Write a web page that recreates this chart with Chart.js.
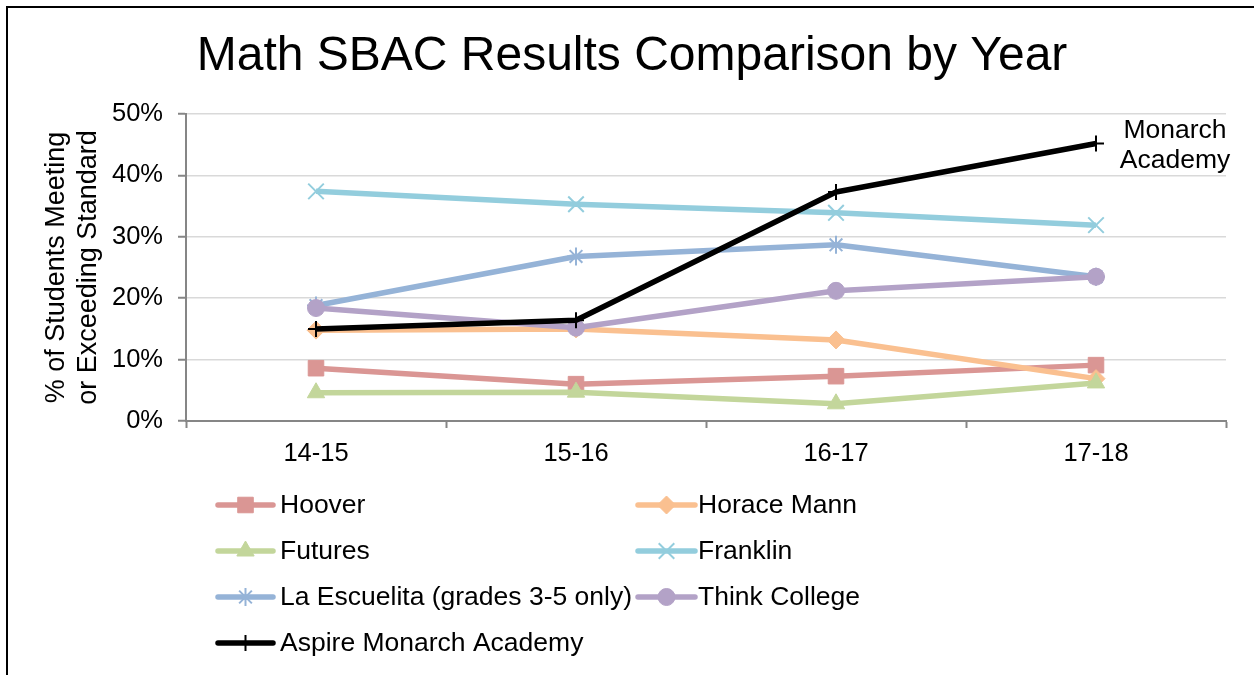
<!DOCTYPE html>
<html>
<head>
<meta charset="utf-8">
<script src="https://cdn.jsdelivr.net/npm/chart.js@4.4.0/dist/chart.umd.min.js"></script>
<style>
  html, body { margin:0; padding:0; background:#ffffff; }
  #wrap { width:1254px; height:675px; position:relative; }
</style>
</head>
<body>
<div id="wrap"><canvas id="c" width="1254" height="675"></canvas></div>
<script>
// ---- data ----
const categories = ['14-15', '15-16', '16-17', '17-18'];
const seriesNames = ['Hoover', 'Horace Mann', 'Futures', 'Franklin', 'La Escuelita (grades 3-5 only)', 'Think College', 'Aspire Monarch Academy'];
const hoover       = [8.6, 6.0, 7.3, 9.1];
const horaceMann   = [14.8, 15.0, 13.2, 6.9];
const futures      = [4.6, 4.7, 2.8, 6.2];
const franklin     = [37.4, 35.3, 33.9, 31.9];
const laEscuelita  = [18.8, 26.8, 28.7, 23.5];
const thinkCollege = [18.4, 15.2, 21.2, 23.5];
const monarch      = [15.0, 16.4, 37.3, 45.2];
const yTicks = [0, 10, 20, 30, 40, 50];
const chartTitle = 'Math SBAC Results Comparison by Year';
const yTitle = ['% of Students Meeting', 'or Exceeding Standard'];
const annotationLines = ['Monarch', 'Academy'];

// ---- styles ----
const FONT = '"Liberation Sans", Arial, Helvetica, sans-serif';
const styles = [
  { color:'#DA9694', point:'rect',     radius:11, bw:1 },
  { color:'#FAC090', point:'rectRot',  radius:9,  bw:1 },
  { color:'#C3D69B', point:'triangle', radius:10, bw:1 },
  { color:'#93CDDD', point:'crossRot', radius:11, bw:2 },
  { color:'#95B3D7', point:'star',     radius:9,  bw:2 },
  { color:'#B3A2C7', point:'circle',   radius:8.5,bw:1 },
  { color:'#000000', point:'cross',    radius:8,  bw:2 }
];
const values = [hoover, horaceMann, futures, franklin, laEscuelita, thinkCollege, monarch];

const datasets = values.map((v, i) => ({
  label: seriesNames[i],
  data: v,
  borderColor: styles[i].color,
  backgroundColor: styles[i].color,
  pointBackgroundColor: styles[i].color,
  pointBorderColor: styles[i].color,
  borderWidth: 5.5,
  pointStyle: styles[i].point,
  pointRadius: styles[i].radius,
  pointHoverRadius: styles[i].radius,
  pointBorderWidth: styles[i].bw,
  borderJoinStyle: 'round',
  tension: 0,
  fill: false,
  order: values.length - 1 - i
}));

function drawMarker(ctx, style, x, y) {
  const opts = { pointStyle: style.point, radius: style.radius, rotation: 0, borderWidth: style.bw };
  ctx.save();
  ctx.fillStyle = style.color;
  ctx.strokeStyle = style.color;
  ctx.lineWidth = style.bw;
  if (Chart.helpers && Chart.helpers.drawPoint) {
    Chart.helpers.drawPoint(ctx, opts, x, y);
  } else {
    ctx.beginPath(); ctx.arc(x, y, style.radius, 0, Math.PI * 2); ctx.fill();
  }
  ctx.restore();
}

const decor = {
  id: 'decor',
  beforeDraw(chart) {
    const ctx = chart.ctx;
    ctx.save();
    ctx.fillStyle = '#ffffff';
    ctx.fillRect(0, 0, chart.width, chart.height);
    ctx.fillStyle = '#000000';
    ctx.fillRect(6, 6, 2, chart.height - 6);
    ctx.fillRect(6, 6, chart.width - 6, 2);
    ctx.restore();
  },
  afterDraw(chart) {
    const ctx = chart.ctx;
    const area = chart.chartArea;
    ctx.save();
    ctx.fillStyle = '#000000';
    // title
    ctx.font = '48px ' + FONT;
    ctx.textAlign = 'center';
    ctx.textBaseline = 'alphabetic';
    ctx.fillText(chartTitle, 632, 70);
    // y axis title (rotated, two lines)
    ctx.save();
    ctx.font = '27px ' + FONT;
    ctx.translate(0, (area.top + area.bottom) / 2);
    ctx.rotate(-Math.PI / 2);
    ctx.textAlign = 'center';
    ctx.textBaseline = 'middle';
    ctx.fillText(yTitle[0], 0, 57);
    ctx.fillText(yTitle[1], 0, 89);
    ctx.restore();
    // annotation next to last Monarch point
    const meta = chart.getDatasetMeta(6);
    const last = meta.data[meta.data.length - 1];
    ctx.font = '26.5px ' + FONT;
    ctx.textAlign = 'center';
    ctx.textBaseline = 'middle';
    ctx.fillText(annotationLines[0], last.x + 79, last.y - 13);
    ctx.fillText(annotationLines[1], last.x + 79, last.y + 17);
    // legend
    const rows = [505, 551, 597, 643];
    const cols = [{ l:218, r:273, t:280 }, { l:638, r:695, t:698 }];
    chart.data.datasets.forEach((ds, i) => {
      const col = cols[i % 2];
      const y = rows[Math.floor(i / 2)];
      ctx.save();
      ctx.strokeStyle = styles[i].color;
      ctx.lineWidth = 5.5;
      ctx.lineCap = 'round';
      ctx.beginPath();
      ctx.moveTo(col.l, y);
      ctx.lineTo(col.r, y);
      ctx.stroke();
      ctx.restore();
      drawMarker(ctx, styles[i], (col.l + col.r) / 2, y);
      ctx.fillStyle = '#000000';
      ctx.font = '26.5px ' + FONT;
      ctx.textAlign = 'left';
      ctx.textBaseline = 'middle';
      ctx.fillText(ds.label, col.t, y + 1);
    });
    ctx.restore();
  }
};

new Chart(document.getElementById('c'), {
  type: 'line',
  data: { labels: categories, datasets: datasets },
  plugins: [decor],
  options: {
    responsive: false,
    animation: false,
    events: [],
    layout: { padding: { left: 0, top: 114, right: 28, bottom: 194 } },
    plugins: { legend: { display: false }, title: { display: false }, tooltip: { enabled: false } },
    scales: {
      x: {
        offset: true,
        grid: { offset: true, drawOnChartArea: false, tickLength: 7, tickColor: '#868686', tickWidth: 2 },
        border: { color: '#868686', width: 2 },
        ticks: { color: '#000000', font: { family: FONT, size: 25.5 }, padding: 11, maxRotation: 0 },
        afterFit(s) { s.height = 60; }
      },
      y: {
        min: 0, max: 50,
        afterBuildTicks(s) { s.ticks = yTicks.map(v => ({ value: v })); },
        ticks: { color: '#000000', font: { family: FONT, size: 25.5 }, padding: 15, callback: v => v + '%' },
        grid: { color: '#D9D9D9', lineWidth: 1.5, tickLength: 8, tickColor: '#868686', tickWidth: 2 },
        border: { color: '#868686', width: 2 },
        afterFit(s) { s.width = 186; }
      }
    }
  }
});
</script>
</body>
</html>
